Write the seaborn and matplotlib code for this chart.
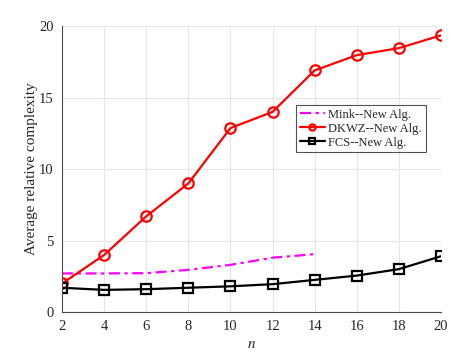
import numpy as np
import pandas as pd
import matplotlib
matplotlib.use("Agg")
import matplotlib.pyplot as plt
import seaborn as sns

# Data
n_full = [2, 4, 6, 8, 10, 12, 14, 16, 18, 20]
n_mink = [2, 4, 6, 8, 10, 12, 14]
mink = [2.7, 2.7, 2.72, 2.95, 3.3, 3.8, 4.05]
dkwz = [2.0, 4.0, 6.7, 9.0, 12.87, 14.0, 16.9, 17.97, 18.46, 19.35]
fcs = [1.7, 1.55, 1.6, 1.7, 1.8, 1.95, 2.25, 2.55, 3.0, 3.9]

sns.set_theme(style="whitegrid")
plt.rcParams['font.family'] = ['Liberation Serif', 'DejaVu Serif']
plt.rcParams['mathtext.fontset'] = 'stix'

fig = plt.figure(figsize=(4.71, 3.53), dpi=100)
ax = fig.add_axes([0.132, 0.116, 0.804, 0.81])

sns.lineplot(x=n_mink, y=mink, ax=ax, color='magenta', lw=1.6,
             label='Mink--New Alg.')
ax.lines[-1].set_dashes([5, 2, 1.5, 2])
sns.lineplot(x=n_full, y=dkwz, ax=ax, color='red', lw=1.6, marker='o',
             markersize=7.5, markerfacecolor='none', markeredgecolor='red',
             markeredgewidth=1.6, label='DKWZ--New Alg.')
sns.lineplot(x=n_full, y=fcs, ax=ax, color='black', lw=1.6, marker='s',
             markersize=6.5, markerfacecolor='none', markeredgecolor='black',
             markeredgewidth=1.6, label='FCS--New Alg.')

ax.set_xlim(2, 20)
ax.set_ylim(0, 20)
ax.set_xticks(range(2, 21, 2))
ax.set_yticks([0, 5, 10, 15, 20])
ax.tick_params(labelsize=10.5, colors='#262626', length=3, direction='in', pad=6)
ax.grid(color='#e6e6e6', lw=0.8)
for s in ['top', 'right']:
    ax.spines[s].set_visible(False)
for s in ['left', 'bottom']:
    ax.spines[s].set_color('#4d4d4d')
    ax.spines[s].set_linewidth(0.8)
ax.set_facecolor('white')

ax.set_xlabel('$n$', fontsize=11, color='#262626', labelpad=3)
ax.set_ylabel('Average relative complexity', fontsize=11, color='#262626', labelpad=1)

leg = ax.legend(loc='upper left', bbox_to_anchor=(0.617, 0.724), fontsize=9,
                frameon=True, fancybox=False, handlelength=2.0,
                handletextpad=0.3, borderpad=0.3, labelspacing=0.15,
                borderaxespad=0)
leg.get_frame().set_edgecolor('#262626')
leg.get_frame().set_linewidth(0.8)
for h in leg.legend_handles:
    h.set_markersize(4.5)

fig.savefig('out.png', dpi=100)
